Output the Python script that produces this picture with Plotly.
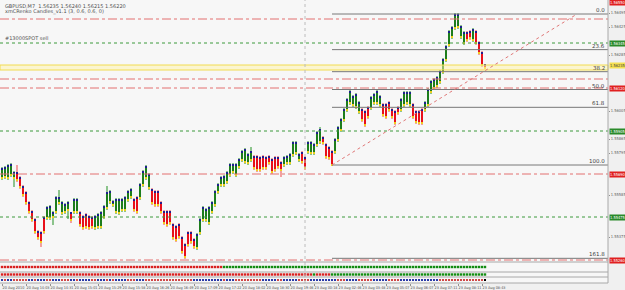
import plotly.graph_objects as go

# ---------------- data ----------------
opens = [1.55670,1.55675,1.55670,1.55685,1.55670,1.55695,1.55670,1.55625,1.55595,1.55545,
         1.55500,1.55460,1.55400,1.55395,1.55470,1.55470,1.55470,1.55475,1.55500,1.55545,
         1.55495,1.55500,1.55510,1.55495,1.55500,1.55500,1.55495,1.55475,1.55485,1.55475,
         1.55470,1.55420,1.55425,1.55425,1.55475,1.55520,1.55550,1.55535,1.55500,1.55495,
         1.55510,1.55510,1.55560,1.55575,1.55560,1.55570,1.55570,1.55635,1.55670,1.55620,
         1.55610,1.55600,1.55600,1.55545,1.55500,1.55500,1.55500,1.55435,1.55425,1.55435,
         1.55370,1.55335,1.55395,1.55395,1.55360,1.55320,1.55395,1.55460,1.55460,1.55445,
         1.55500,1.55535,1.55600,1.55635,1.55635,1.55650,1.55685,1.55700,1.55685,1.55725,
         1.55760,1.55750,1.55745,1.55760,1.55775,1.55775,1.55770,1.55775,1.55770,1.55775,
         1.55760,1.55770,1.55770,1.55745,1.55735,1.55745,1.55745,1.55785,1.55795,1.55760,
         1.55795,1.55770,1.55800,1.55795,1.55795,1.55835,1.55850,1.55870,1.55835,1.55820,
         1.55800,1.55800,1.55860,1.55910,1.55960,1.56010,1.56045,1.56035,1.56025,1.56000,
         1.56010,1.56000,1.56020,1.56020,1.56045,1.56045,1.56035,1.56035,1.56035,1.56045,
         1.56010,1.56000,1.56020,1.56010,1.56035,1.56045,1.56035,1.56035,1.56000,1.56000,
         1.56010,1.56010,1.56035,1.56100,1.56120,1.56130,1.56150,1.56200,1.56260,1.56335,
         1.56375,1.56420,1.56425,1.56375,1.56345,1.56395,1.56400,1.56360,1.56400,1.56345,
         1.56295,1.56235]
highs = [1.55725,1.55730,1.55740,1.55745,1.55705,1.55735,1.55680,1.55635,1.55605,1.55555,
         1.55510,1.55470,1.55410,1.55405,1.55480,1.55530,1.55535,1.55505,1.55580,1.55610,
         1.55555,1.55545,1.55555,1.55500,1.55570,1.55570,1.55505,1.55485,1.55495,1.55485,
         1.55480,1.55485,1.55495,1.55505,1.55535,1.55630,1.55610,1.55560,1.55570,1.55570,
         1.55570,1.55580,1.55610,1.55620,1.55570,1.55580,1.55645,1.55710,1.55735,1.55695,
         1.55620,1.55610,1.55610,1.55555,1.55510,1.55510,1.55510,1.55445,1.55435,1.55445,
         1.55380,1.55345,1.55405,1.55405,1.55370,1.55395,1.55470,1.55530,1.55520,1.55530,
         1.55555,1.55610,1.55645,1.55680,1.55685,1.55705,1.55745,1.55745,1.55745,1.55770,
         1.55810,1.55820,1.55795,1.55825,1.55785,1.55785,1.55780,1.55785,1.55780,1.55785,
         1.55770,1.55780,1.55780,1.55755,1.55780,1.55785,1.55795,1.55855,1.55855,1.55795,
         1.55805,1.55780,1.55855,1.55855,1.55845,1.55905,1.55925,1.55880,1.55845,1.55830,
         1.55810,1.55870,1.55930,1.55970,1.56020,1.56070,1.56110,1.56085,1.56095,1.56055,
         1.56020,1.56010,1.56030,1.56080,1.56095,1.56110,1.56085,1.56045,1.56045,1.56055,
         1.56020,1.56010,1.56030,1.56070,1.56105,1.56105,1.56105,1.56045,1.56010,1.56010,
         1.56020,1.56055,1.56120,1.56160,1.56170,1.56180,1.56210,1.56270,1.56335,1.56410,
         1.56430,1.56495,1.56495,1.56435,1.56405,1.56405,1.56410,1.56420,1.56410,1.56355,
         1.56305,1.56240]
lows  = [1.55660,1.55665,1.55660,1.55675,1.55625,1.55650,1.55615,1.55575,1.55535,1.55490,
         1.55450,1.55390,1.55360,1.55325,1.55390,1.55460,1.55460,1.55435,1.55490,1.55535,
         1.55485,1.55490,1.55465,1.55445,1.55490,1.55490,1.55425,1.55410,1.55415,1.55410,
         1.55415,1.55410,1.55415,1.55415,1.55465,1.55510,1.55540,1.55525,1.55490,1.55485,
         1.55500,1.55500,1.55550,1.55565,1.55500,1.55490,1.55560,1.55625,1.55660,1.55610,
         1.55535,1.55525,1.55525,1.55490,1.55435,1.55425,1.55435,1.55360,1.55350,1.55365,
         1.55290,1.55265,1.55325,1.55340,1.55315,1.55310,1.55385,1.55450,1.55450,1.55435,
         1.55490,1.55525,1.55590,1.55625,1.55625,1.55640,1.55675,1.55690,1.55675,1.55715,
         1.55750,1.55740,1.55735,1.55750,1.55710,1.55700,1.55700,1.55710,1.55710,1.55735,
         1.55690,1.55700,1.55715,1.55675,1.55725,1.55735,1.55735,1.55775,1.55785,1.55750,
         1.55740,1.55710,1.55790,1.55785,1.55785,1.55825,1.55840,1.55835,1.55765,1.55760,
         1.55730,1.55790,1.55850,1.55900,1.55950,1.56000,1.56035,1.56025,1.56015,1.55990,
         1.55950,1.55925,1.55965,1.56010,1.56035,1.56035,1.56025,1.55975,1.55965,1.56000,
         1.55965,1.55935,1.55985,1.56000,1.56025,1.56035,1.56025,1.55965,1.55940,1.55935,
         1.55935,1.56000,1.56025,1.56090,1.56110,1.56120,1.56140,1.56190,1.56250,1.56325,
         1.56365,1.56410,1.56415,1.56365,1.56335,1.56350,1.56360,1.56350,1.56335,1.56285,
         1.56225,1.56215]
closes = [1.55715,1.55720,1.55730,1.55735,1.55695,1.55660,1.55625,1.55585,1.55545,1.55500,
          1.55460,1.55400,1.55370,1.55350,1.55400,1.55520,1.55525,1.55495,1.55570,1.55570,
          1.55545,1.55535,1.55545,1.55460,1.55560,1.55560,1.55435,1.55420,1.55425,1.55420,
          1.55425,1.55475,1.55485,1.55495,1.55525,1.55595,1.55600,1.55550,1.55560,1.55560,
          1.55560,1.55570,1.55600,1.55610,1.55510,1.55500,1.55635,1.55700,1.55725,1.55685,
          1.55545,1.55535,1.55535,1.55500,1.55445,1.55435,1.55445,1.55370,1.55360,1.55375,
          1.55300,1.55275,1.55335,1.55350,1.55325,1.55385,1.55460,1.55520,1.55510,1.55520,
          1.55545,1.55600,1.55635,1.55670,1.55675,1.55695,1.55735,1.55735,1.55735,1.55760,
          1.55800,1.55810,1.55785,1.55800,1.55720,1.55710,1.55710,1.55720,1.55720,1.55745,
          1.55700,1.55710,1.55725,1.55710,1.55770,1.55775,1.55785,1.55845,1.55845,1.55785,
          1.55750,1.55720,1.55845,1.55845,1.55835,1.55895,1.55910,1.55845,1.55775,1.55770,
          1.55735,1.55860,1.55920,1.55960,1.56010,1.56060,1.56100,1.56075,1.56085,1.56045,
          1.55960,1.55935,1.55975,1.56070,1.56085,1.56100,1.56075,1.55985,1.55975,1.56010,
          1.55975,1.55945,1.55995,1.56060,1.56095,1.56095,1.56095,1.55975,1.55950,1.55945,
          1.55945,1.56045,1.56110,1.56150,1.56160,1.56170,1.56200,1.56260,1.56325,1.56400,
          1.56420,1.56485,1.56485,1.56425,1.56395,1.56360,1.56370,1.56410,1.56345,1.56295,
          1.56235,1.56220]

time_labels = ["20 Aug 2010", "20 Aug 14:03", "20 Aug 14:31", "20 Aug 15:01", "20 Aug 15:29",
               "20 Aug 15:58", "20 Aug 16:26", "20 Aug 16:49", "20 Aug 17:09", "20 Aug 17:22",
               "20 Aug 18:02", "20 Aug 18:30", "20 Aug 19:46", "23 Aug 00:18", "23 Aug 02:46",
               "23 Aug 03:48", "23 Aug 05:07", "23 Aug 06:07", "23 Aug 07:11", "23 Aug 08:11",
               "23 Aug 08:43"]
time_label_bars = [0, 8, 16, 24, 32, 40, 48, 56, 64, 72, 80, 88, 96, 104, 112, 120, 128, 136, 144, 152, 160]

# fibonacci anchors (bar index, price)
fib_start = (110, 1.55735)
fib_end = (191.7, 1.56490)
fib_levels = [0.0, 23.6, 38.2, 50.0, 61.8, 100.0, 161.8]

red_levels = [1.56465, 1.56165, 1.56120, 1.55690, 1.55260]
green_levels = [1.56345, 1.55905, 1.55475]
yellow_band = (1.56210, 1.56235)
red_label_levels = [1.56550, 1.56120, 1.55690, 1.55260]

# indicator strips: runs of (state, count)
strip1_runs = [(-1, 74), (1, 88)]
strip2_runs = [(-1, 104), (1, 1), (-1, 5), (1, 52)]
strip3_vals = [1,-1,1,1,-1,-1,-1,-1,-1,1,1,-1,1,1,1,-1,-1,1,1,1,-1,-1,-1,1,1,-1,1,1,1,1,
               -1,-1,1,1,1,-1,1,-1,1,1,1,1,-1,-1,-1,1,1,1,-1,-1,-1,-1,-1,-1,-1,-1,-1,-1,-1,-1,
               -1,-1,-1,-1,1,1,1,1,1,1,1,1,1,1,-1,1,1,1,-1,-1,-1,-1,-1,-1,-1,-1,-1,1,1,1,
               1,1,-1,-1,1,1,1,1,1,-1,-1,-1,-1,1,1,1,1,1,1,1,1,1,-1,-1,-1,1,1,1,1,-1,-1,
               -1,-1,-1,1,1,1,1,1,-1,-1,-1,-1,1,1,1,1,1,1,1,1,1,1,1,1,1,-1,-1,-1,-1,-1,-1,
               -1,-1,-1,-1,-1,-1,-1,-1,-1]

title_line1 = "GBPUSD,M7  1.56235 1.56240 1.56215 1.56220"
title_line2 = "xmCRenko Candles_v1.1 (3, 0.6, 0.6, 0)"

price_ticks = [1.56495, 1.56425, 1.56285, 1.56005, 1.55865,
               1.55795, 1.55585, 1.55375]

# ---------------- figure ----------------
W, H = 625, 290
PLOT_R = 608
MAIN_BOTTOM = 262
n = len(opens)
idx = list(range(n))
px_per_bar = 3.0
x0 = -2.0 / px_per_bar
x1 = x0 + PLOT_R / px_per_bar
FONT = 'DejaVu Sans'
NARROW = 'Liberation Sans Narrow, DejaVu Sans Condensed, sans-serif'

def py2paper(py):
    return 1 - py / H

bull = [c >= o for o, c in zip(opens, closes)]
body_base = [min(o, c) for o, c in zip(opens, closes)]
body_h = [max(abs(c - o), 0.00005) for o, c in zip(opens, closes)]
body_top = [max(o, c) for o, c in zip(opens, closes)]

fig = go.Figure()
fig.add_trace(go.Bar(x=idx, y=[h - l for h, l in zip(highs, lows)], base=lows, width=0.34,
                     marker=dict(color=['#8cc48c' if b else '#f2a0a0' for b in bull], line_width=0),
                     hoverinfo='skip', showlegend=False))
fig.add_trace(go.Bar(x=idx, y=body_h, base=body_base, width=0.68,
                     marker=dict(color=['#1d7d1d' if b else '#e8101a' for b in bull], line_width=0),
                     hoverinfo='skip', showlegend=False))
fig.add_trace(go.Scatter(x=idx, y=body_top, mode='markers',
                         marker=dict(symbol='square', size=1.9, color='#1b1b8f', line_width=0),
                         hoverinfo='skip', showlegend=False))
fig.add_trace(go.Scatter(x=idx, y=body_base, mode='markers',
                         marker=dict(symbol='square', size=1.9, color='#f3d21a', line_width=0),
                         hoverinfo='skip', showlegend=False))

def expand(runs):
    out = []
    for s, c in runs:
        out += [s] * c
    return out

s1 = expand(strip1_runs)
s2 = expand(strip2_runs)
fig.add_trace(go.Scatter(x=idx, y=[0] * n, yaxis='y2', mode='markers',
                         marker=dict(symbol='square', size=2.4, color=['#128c12' if v > 0 else '#d82020' for v in s1], line_width=0),
                         hoverinfo='skip', showlegend=False))
fig.add_trace(go.Scatter(x=idx, y=[0] * n, yaxis='y3', mode='markers',
                         marker=dict(symbol='square', size=2.4, color=['#128c12' if v > 0 else '#d82020' for v in s2], line_width=0),
                         hoverinfo='skip', showlegend=False))
fig.add_trace(go.Scatter(x=idx, y=[0] * n, yaxis='y4', mode='markers',
                         marker=dict(symbol='square', size=2.0, color=['#2a3aa8' if v > 0 else '#d04848' for v in strip3_vals], line_width=0),
                         hoverinfo='skip', showlegend=False))

shapes = []
for lv in red_levels:
    shapes.append(dict(type='line', xref='x domain', x0=0, x1=1, yref='y', y0=lv, y1=lv,
                       line=dict(color='#e37070', width=1, dash='dashdot')))
for lv in green_levels:
    shapes.append(dict(type='line', xref='x domain', x0=0, x1=1, yref='y', y0=lv, y1=lv,
                       line=dict(color='#3c9a3c', width=1, dash='dot')))
shapes.append(dict(type='rect', xref='x domain', x0=0, x1=1, yref='y', y0=yellow_band[0], y1=yellow_band[1],
                   fillcolor='rgba(255,244,170,0.5)', line=dict(color='#f2dc50', width=1)))
p100, p0 = fib_start[1], fib_end[1]
for lv in fib_levels:
    pr = p0 + (p100 - p0) * lv / 100.0
    shapes.append(dict(type='line', xref='x', x0=fib_start[0], x1=x1, yref='y', y0=pr, y1=pr,
                       line=dict(color='#787878', width=1)))
shapes.append(dict(type='line', xref='x', x0=fib_start[0], x1=fib_end[0], yref='y', y0=p100, y1=p0,
                   line=dict(color='#e07878', width=1, dash='dot')))
shapes.append(dict(type='line', xref='x', x0=101, x1=101, yref='paper', y0=py2paper(283), y1=1,
                   line=dict(color='#bcbcbc', width=1, dash='dot')))
for py in [262, 272, 277, 283]:
    shapes.append(dict(type='line', xref='paper', x0=0, x1=PLOT_R / W, yref='paper', y0=py2paper(py), y1=py2paper(py),
                       line=dict(color='#a8a8a8', width=1)))
shapes.append(dict(type='line', xref='paper', x0=PLOT_R / W, x1=PLOT_R / W, yref='paper', y0=py2paper(283), y1=1,
                   line=dict(color='#a8a8a8', width=1)))

annotations = []
for lv in fib_levels:
    pr = p0 + (p100 - p0) * lv / 100.0
    annotations.append(dict(x=PLOT_R / W - 0.002, xref='paper', y=pr, yref='y', text='%.1f' % lv,
                            showarrow=False, xanchor='right', yanchor='bottom', yshift=-1,
                            font=dict(size=5.5, color='#404040', family=FONT)))
LBL_X = (PLOT_R + 1) / W
for lv in red_label_levels:
    annotations.append(dict(x=LBL_X, xref='paper', y=lv, yref='y', text='%.5f' % lv, showarrow=False,
                            xanchor='left', yanchor='middle', bgcolor='#e02020', borderpad=0,
                            font=dict(size=4, color='white', family=NARROW)))
for lv in green_levels:
    annotations.append(dict(x=LBL_X, xref='paper', y=lv, yref='y', text='%.5f' % lv, showarrow=False,
                            xanchor='left', yanchor='middle', bgcolor='#2a8a2a', borderpad=0,
                            font=dict(size=4, color='white', family=NARROW)))
annotations.append(dict(x=LBL_X, xref='paper', y=yellow_band[1], yref='y', text='%.5f' % yellow_band[1],
                        showarrow=False, xanchor='left', yanchor='middle', bgcolor='#f5e050', borderpad=0,
                        font=dict(size=4, color='#404040', family=NARROW)))
annotations.append(dict(x=0.004, xref='paper', y=py2paper(1), yref='paper', text=title_line1, showarrow=False,
                        xanchor='left', yanchor='top', font=dict(size=5, color='#505050', family=FONT)))
annotations.append(dict(x=0.004, xref='paper', y=py2paper(6), yref='paper', text=title_line2, showarrow=False,
                        xanchor='left', yanchor='top', font=dict(size=5, color='#505050', family=FONT)))
annotations.append(dict(x=0.004, xref='paper', y=green_levels[0], yref='y', text='#13000SPOT sell', showarrow=False,
                        xanchor='left', yanchor='bottom', font=dict(size=5, color='#505050', family=FONT)))

fig.update_layout(
    width=W, height=H, margin=dict(l=0, r=0, t=0, b=0, autoexpand=False),
    paper_bgcolor='#f0f0f0', plot_bgcolor='#f7f7f7',
    barmode='overlay', bargap=0, showlegend=False,
    shapes=shapes, annotations=annotations,
    xaxis=dict(domain=[0, PLOT_R / W], range=[x0, x1], anchor='y4', showgrid=False, zeroline=False,
               automargin=False, tickmode='array', tickvals=time_label_bars, ticktext=time_labels,
               tickangle=0, ticklabelposition='outside right',
               tickfont=dict(size=3.8, color='#505050', family=NARROW), ticks='outside', ticklen=2,
               tickcolor='#909090', showline=False),
    yaxis=dict(domain=[py2paper(MAIN_BOTTOM), 1], range=[1.5656 - 0.00005 * MAIN_BOTTOM, 1.5656],
               side='right', anchor='x', showgrid=False, zeroline=False, automargin=False,
               tickmode='array', tickvals=price_ticks, ticktext=['%.5f' % v for v in price_ticks],
               tickfont=dict(size=4, color='#606060', family=NARROW), ticks='outside', ticklen=1,
               tickcolor='#909090'),
    yaxis2=dict(domain=[py2paper(272), py2paper(262)], range=[-1, 1], anchor='x', showticklabels=False,
                showgrid=False, zeroline=False, automargin=False),
    yaxis3=dict(domain=[py2paper(277), py2paper(272)], range=[-1, 1], anchor='x', showticklabels=False,
                showgrid=False, zeroline=False, automargin=False),
    yaxis4=dict(domain=[py2paper(283), py2paper(277)], range=[-1, 1], anchor='x', showticklabels=False,
                showgrid=False, zeroline=False, automargin=False),
)

fig.write_html("out.html")
